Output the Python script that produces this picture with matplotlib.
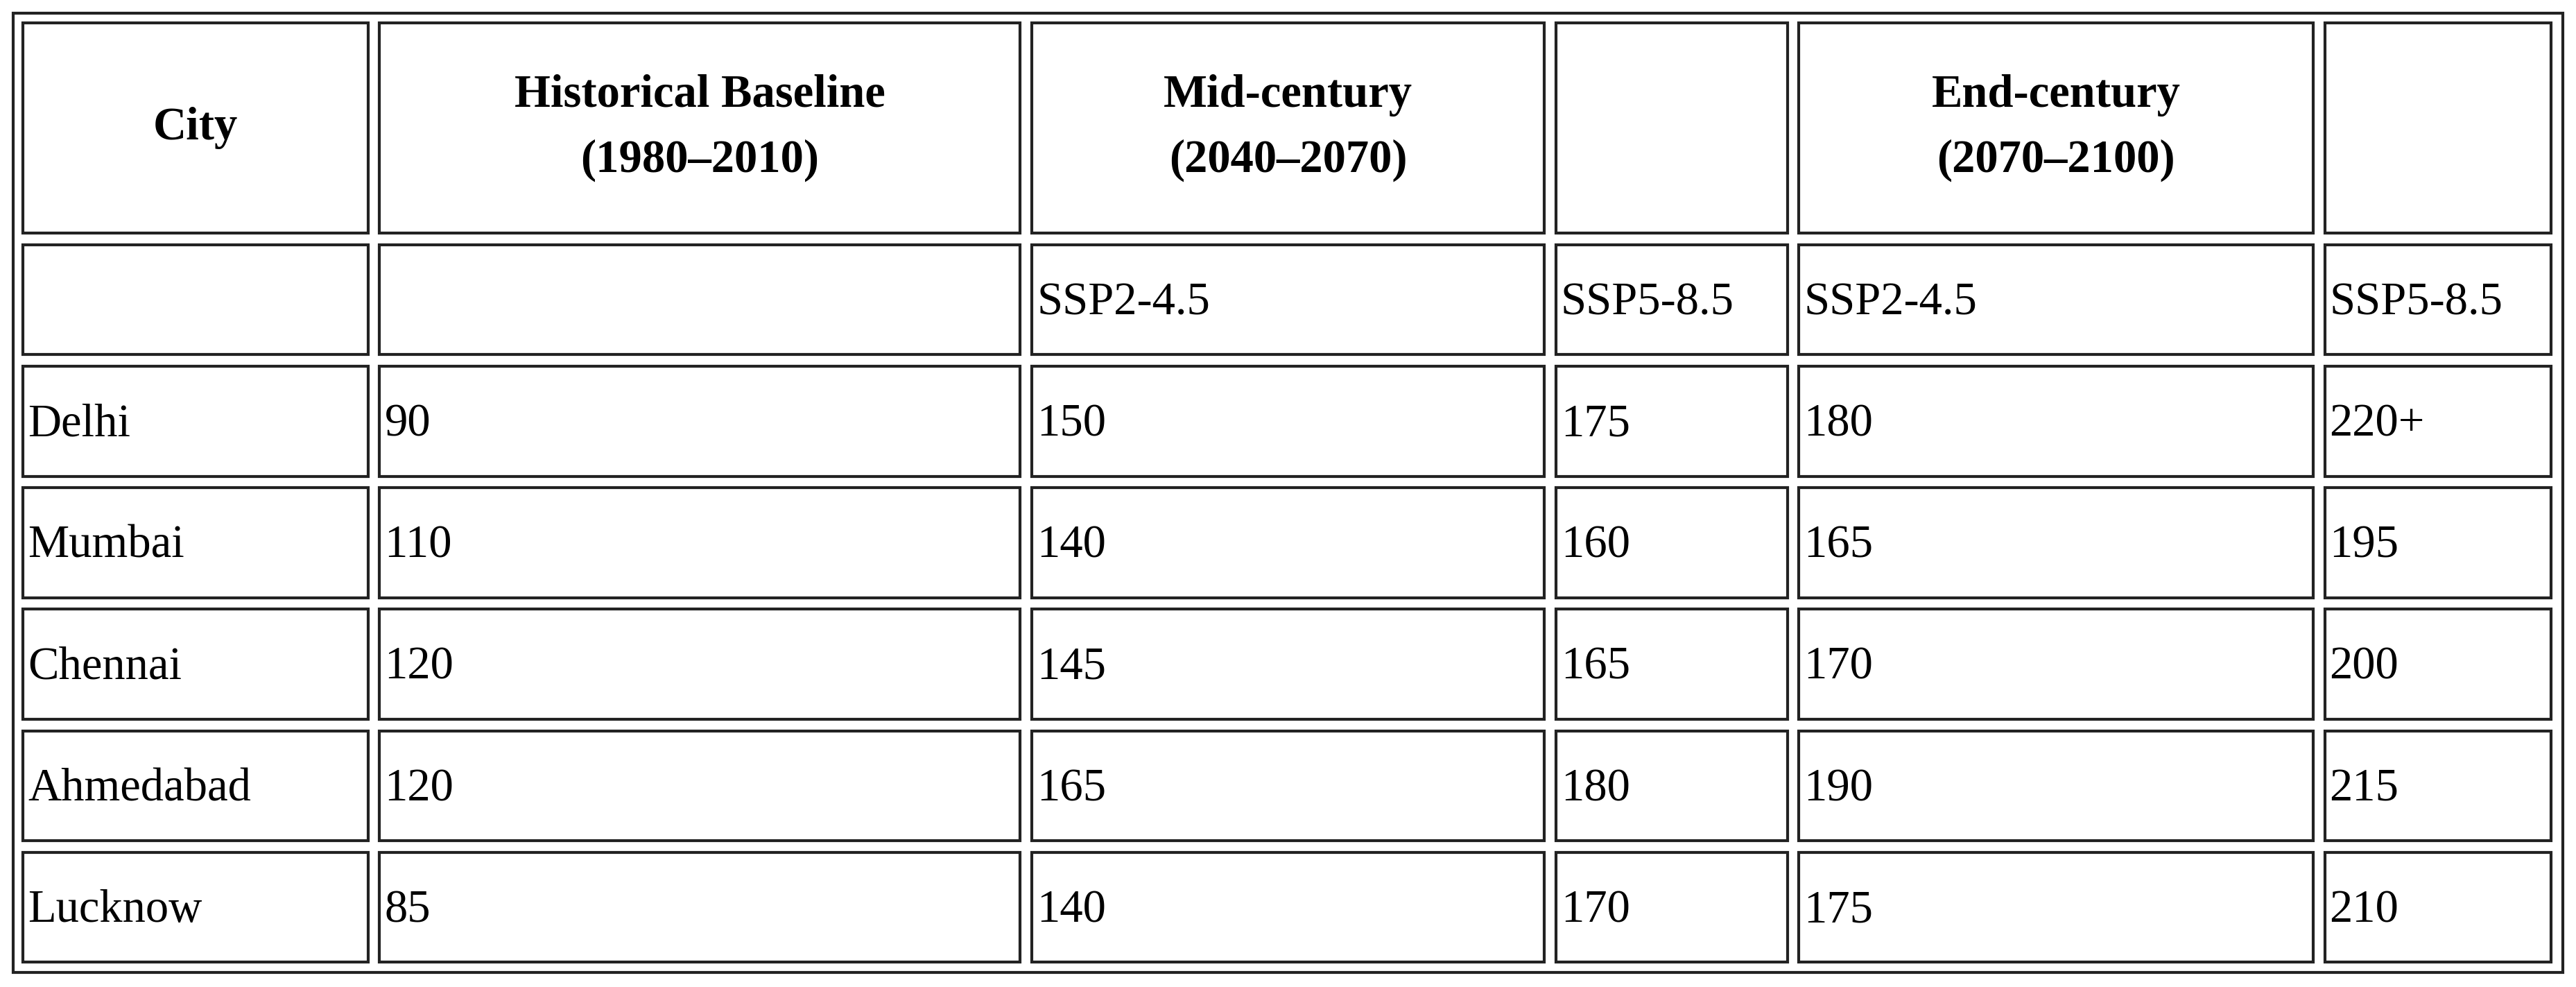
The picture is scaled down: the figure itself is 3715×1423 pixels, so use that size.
import matplotlib
matplotlib.use("Agg")
import matplotlib.pyplot as plt
from matplotlib.patches import Rectangle

header = ["City", "Historical Baseline\n(1980\u20132010)", "Mid-century\n(2040\u20132070)", "", "End-century\n(2070\u20132100)", ""]
subheader = ["", "", "SSP2-4.5", "SSP5-8.5", "SSP2-4.5", "SSP5-8.5"]
cities = ["Delhi", "Mumbai", "Chennai", "Ahmedabad", "Lucknow"]
baseline = ["90", "110", "120", "120", "85"]
mid_ssp245 = ["150", "140", "145", "165", "140"]
mid_ssp585 = ["175", "160", "165", "180", "170"]
end_ssp245 = ["180", "165", "170", "190", "175"]
end_ssp585 = ["220+", "195", "200", "215", "210"]

W, H = 1568, 601
fig = plt.figure(figsize=(37.15, 14.23), dpi=100)
ax = fig.add_axes([0, 0, 1, 1])
ax.set_xlim(0, W); ax.set_ylim(H, 0); ax.axis("off")

cols = [(14, 224), (231, 621), (628, 940), (947, 1088), (1095, 1408), (1415, 1553)]
rows = [(14, 142), (149, 216), (223, 290), (297, 364), (371, 438), (445, 512), (519, 586)]
lw = 3.0
ax.add_patch(Rectangle((8, 8), 1552, 584, fill=False, lw=lw, ec="#222222"))
for (y0, y1) in rows:
    for (x0, x1) in cols:
        ax.add_patch(Rectangle((x0, y0), x1 - x0, y1 - y0, fill=False, lw=lw, ec="#222222"))

font = ["Liberation Serif", "DejaVu Serif"]
fs = 48
for (x0, x1), t in zip(cols, header):
    ax.text((x0 + x1) / 2, (rows[0][0] + rows[0][1]) / 2, t, ha="center", va="center",
            fontsize=fs, fontweight="bold", family=font, linespacing=1.7)
data_rows = [subheader] + [list(r) for r in zip(cities, baseline, mid_ssp245, mid_ssp585, end_ssp245, end_ssp585)]
for (y0, y1), r in zip(rows[1:], data_rows):
    for (x0, x1), t in zip(cols, r):
        ax.text(x0 + 3, (y0 + y1) / 2 + 2, t, ha="left", va="center", fontsize=fs, family=font)

fig.savefig("out.png", dpi=100, facecolor="white")
